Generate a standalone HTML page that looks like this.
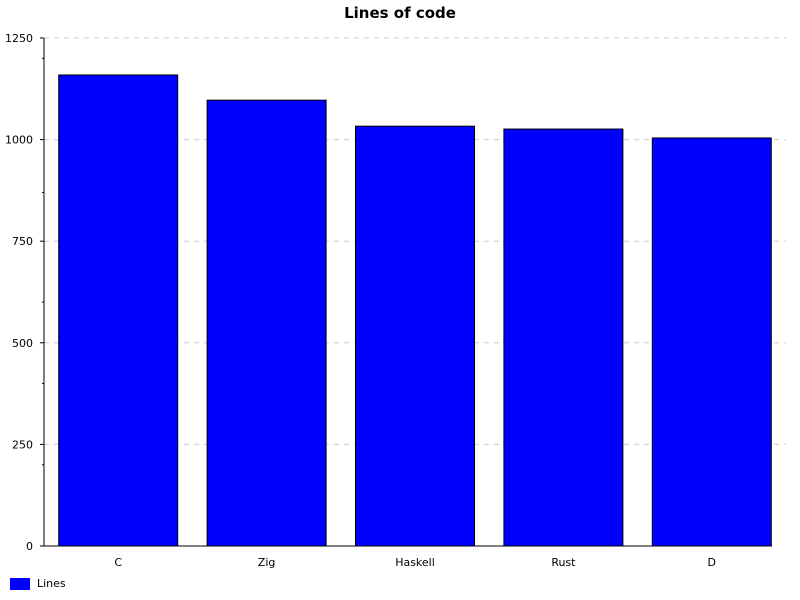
<!DOCTYPE html>
<html><head><meta charset="utf-8"><style>body{margin:0;background:#fff}svg{display:block}text{font-family:"DejaVu Sans","Liberation Sans",sans-serif}</style></head>
<body>
<svg width="800" height="600" xmlns="http://www.w3.org/2000/svg">
<text x="400" y="18" text-anchor="middle" font-size="15" font-weight="bold">Lines of code</text>
<g id="grid"></g><g id="bars"></g><g id="axes"></g>
<rect x="10" y="578" width="20" height="12" fill="#0000ff"/>
<text x="37" y="587" font-size="11">Lines</text>
</svg>
<script>
const categories=["C","Zig","Haskell","Rust","D"];
const values=[1159,1097,1033,1026,1004];
const yTicks=[0,250,500,750,1000,1250];
const minorTicks=[200,400,600,870,1200];
const NS="http://www.w3.org/2000/svg";
const x0=44,x1=786,yb=546,yt=38,ymax=1250;
const y=v=>yb-(v/ymax)*(yb-yt);
const band=(x1-x0)/categories.length;
function mk(t,a,p){const e=document.createElementNS(NS,t);for(const k in a)e.setAttribute(k,a[k]);p.appendChild(e);return e;}
const g=document.getElementById('grid'),b=document.getElementById('bars'),ax=document.getElementById('axes');
yTicks.forEach(v=>{
 if(v>0){const l=mk('line',{x1:x0,x2:x1,y1:y(v),y2:y(v),stroke:'#ccc','stroke-dasharray':'5,5'},g);
 
 }
 const t=mk('line',{x1:x0-4,x2:x0,y1:y(v),y2:y(v),stroke:'#000'},ax);
 
 
 const tx=mk('text',{x:x0-11,y:y(v)+4,'text-anchor':'end','font-size':'11'},ax);tx.textContent=v;
 
 
});
minorTicks.forEach(v=>{const t=mk('line',{x1:x0-2,x2:x0,y1:y(v),y2:y(v),stroke:'#000'},ax);
 
 });
categories.forEach((c,i)=>{
 const bw=119,bx=x0+band*i+(band-bw)/2;
 const r=mk('rect',{x:bx,y:y(values[i]),width:bw,height:yb-y(values[i]),fill:'#0000ff',stroke:'#000','stroke-width':1},b);
 
 
 const t=mk('text',{x:bx+bw/2,y:566,'text-anchor':'middle','font-size':'11'},ax);t.textContent=c;
 
 
});
const ya=mk('line',{x1:x0,x2:x0,y1:yt,y2:yb,stroke:'#000'},ax);


const xa=mk('line',{x1:x0,x2:772,y1:yb,y2:yb,stroke:'#000'},ax);


</script>
</body></html>
